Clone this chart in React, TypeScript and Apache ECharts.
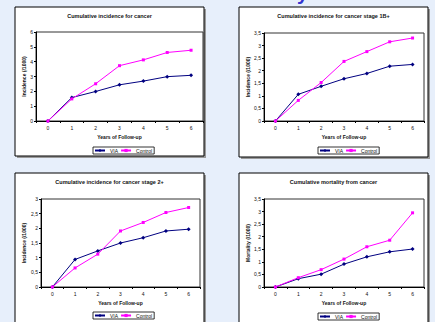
import React, { useEffect, useRef } from "react";
import * as echarts from "echarts";

const years = ["0", "1", "2", "3", "4", "5", "6"];
const seriesNames = ["VIA", "Control"];

const titles = [
  "Cumulative incidence for cancer",
  "Cumulative incidence for cancer stage 1B+",
  "Cumulative incidence for cancer stage 2+",
  "Cumulative mortality from cancer",
];
const yNames = ["Incidence (/1000)", "Incidence (/1000)", "Incidence (/1000)", "Mortality (/1000)"];
const xName = "Years of Follow-up";
const yMax = [6, 3.5, 3, 3.5];
const yInterval = [1, 0.5, 0.5, 0.5];

const viaAll = [0, 1.58, 1.99, 2.44, 2.69, 2.99, 3.08];
const controlAll = [0, 1.49, 2.51, 3.73, 4.12, 4.62, 4.77];
const via1B = [0, 1.06, 1.38, 1.68, 1.89, 2.18, 2.25];
const control1B = [0, 0.82, 1.53, 2.37, 2.76, 3.15, 3.3];
const via2 = [0, 0.94, 1.23, 1.5, 1.68, 1.91, 1.97];
const control2 = [0, 0.65, 1.12, 1.91, 2.2, 2.54, 2.71];
const viaMort = [0, 0.33, 0.51, 0.91, 1.2, 1.4, 1.51];
const controlMort = [0, 0.37, 0.69, 1.11, 1.6, 1.86, 2.95];

const viaData = [viaAll, via1B, via2, viaMort];
const controlData = [controlAll, control1B, control2, controlMort];

// layout
const boxes = [
  { x: 15, y: 7, w: 189, h: 149 },
  { x: 239, y: 7, w: 189, h: 150 },
  { x: 15, y: 173, w: 189, h: 160 },
  { x: 239, y: 173, w: 189, h: 160 },
];
const grids = [
  { l: 36, t: 32, w: 167, h: 89 },
  { l: 264, t: 33, w: 160, h: 88 },
  { l: 41, t: 199, w: 159, h: 88 },
  { l: 264, t: 199, w: 160, h: 88 },
];
const yNameGaps = [9.5, 13.5, 14.5, 13.5];
const legendPos = [
  { l: 93, t: 147 },
  { l: 318, t: 147 },
  { l: 93, t: 312 },
  { l: 318, t: 313 },
];

const FONT = "'Liberation Sans', Arial, sans-serif";
const BG = "#e7effb";
const NAVY = "#000080";
const MAGENTA = "#ff00ff";

export default function App() {
  const ref = useRef<HTMLDivElement>(null);
  useEffect(() => {
    if (!ref.current) return;
    const chart = echarts.init(ref.current, undefined, { renderer: "svg" });
    const graphic: any[] = [];
    boxes.forEach((b) => {
      graphic.push({
        type: "rect",
        z: -20,
        shape: { x: b.x + 2, y: b.y + 2, width: b.w, height: b.h },
        style: { fill: "#9a9a9a" },
      });
      graphic.push({
        type: "rect",
        z: -10,
        shape: { x: b.x, y: b.y, width: b.w, height: b.h },
        style: { fill: "#ffffff", stroke: "#000000", lineWidth: 1 },
      });
    });
    graphic.push({
      type: "text",
      z: 5,
      style: {
        text: "y",
        x: 297,
        y: -17,
        fontSize: 20,
        fontWeight: "bold",
        fontFamily: FONT,
        fill: "#3535d0",
      },
    });

    const option: any = {
      animation: false,
      backgroundColor: BG,
      textStyle: { fontFamily: FONT },
      graphic,
      title: titles.map((t, i) => ({
        text: t,
        left: boxes[i].x + boxes[i].w / 2,
        top: i < 2 ? 12.5 : 179,
        textAlign: "center",
        padding: 0,
        textStyle: { fontSize: 5.5, fontWeight: "bold", color: "#111", fontFamily: FONT },
      })),
      legend: legendPos.map((p) => ({
        data: seriesNames,
        left: p.l,
        top: p.t,
        orient: "horizontal",
        itemWidth: 10,
        itemHeight: 4,
        itemGap: 2,
        padding: [1, 2, 1, 1],
        borderColor: "#000",
        borderWidth: 0.8,
        textStyle: { fontSize: 5, color: "#111", fontFamily: FONT },
      })),
      grid: grids.map((g) => ({
        left: g.l,
        top: g.t,
        width: g.w,
        height: g.h,
        show: true,
        backgroundColor: "#fff",
        borderColor: "#333",
        borderWidth: 1,
      })),
      xAxis: grids.map((_, i) => ({
        type: "category",
        gridIndex: i,
        data: years,
        boundaryGap: true,
        name: xName,
        nameLocation: "middle",
        nameGap: 13,
        nameTextStyle: { fontSize: 5, fontWeight: "bold", color: "#111", fontFamily: FONT },
        axisLine: { lineStyle: { color: "#000", width: 1 } },
        axisTick: { show: true, length: 2, lineStyle: { color: "#000" } },
        axisLabel: { fontSize: 5, color: "#111", margin: 4 },
        splitLine: { show: false },
      })),
      yAxis: grids.map((_, i) => ({
        type: "value",
        gridIndex: i,
        min: 0,
        max: yMax[i],
        interval: yInterval[i],
        name: yNames[i],
        nameLocation: "middle",
        nameGap: yNameGaps[i],
        nameTextStyle: { fontSize: 5, fontWeight: "bold", color: "#111", fontFamily: FONT },
        axisLine: { show: true, lineStyle: { color: "#000", width: 1 } },
        axisTick: { show: true, length: 2, lineStyle: { color: "#000" } },
        axisLabel: {
          fontSize: 5,
          color: "#111",
          margin: 3,
          formatter: (v: number) => String(v).replace(".", ","),
        },
        splitLine: { show: false },
      })),
      series: grids.flatMap((_, i) => [
        {
          name: "VIA",
          type: "line",
          xAxisIndex: i,
          yAxisIndex: i,
          data: viaData[i],
          symbol: "diamond",
          symbolSize: 4,
          lineStyle: { color: NAVY, width: 1 },
          itemStyle: { color: NAVY },
        },
        {
          name: "Control",
          type: "line",
          xAxisIndex: i,
          yAxisIndex: i,
          data: controlData[i],
          symbol: "rect",
          symbolSize: 3,
          lineStyle: { color: MAGENTA, width: 1 },
          itemStyle: { color: MAGENTA },
        },
      ]),
    };
    chart.setOption(option);
    return () => chart.dispose();
  }, []);
  return (
    <div
      ref={ref}
      style={{ position: "fixed", left: 0, top: 0, width: 435, height: 322 }}
    />
  );
}
